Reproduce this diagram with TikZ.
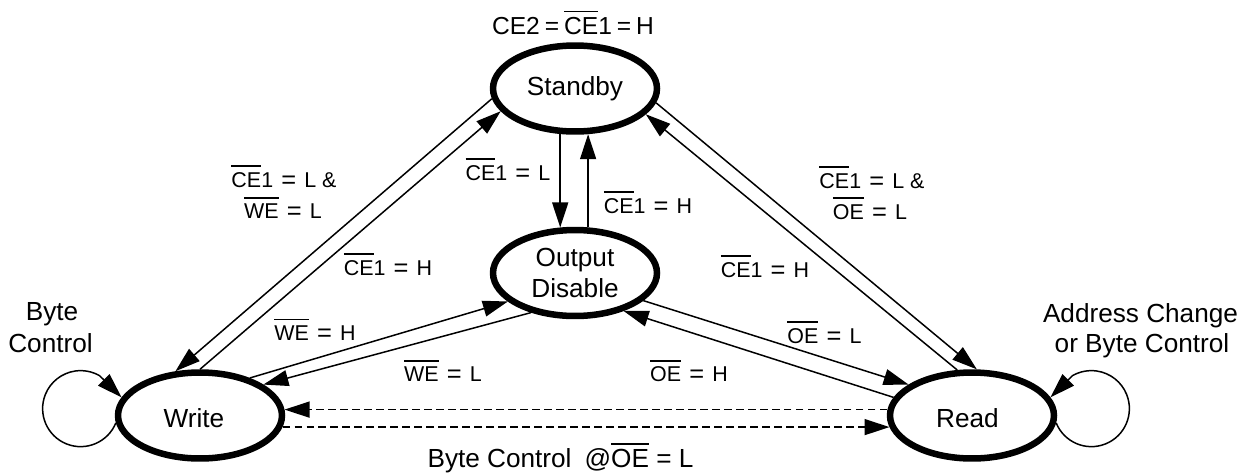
\documentclass[tikz,border=0pt]{standalone}
\usepackage{fontspec}
\setmainfont{Liberation Sans}
\usetikzlibrary{shapes.geometric,arrows.meta}
\newcommand\ovl[1]{\leavevmode\vbox{\hrule height 1.0pt\kern 2.8pt\hbox{#1}}}
\newcommand\eqt{\hspace{0.38em}\raisebox{-0.05em}{\fontsize{14.5}{14.5}\selectfont=}\hspace{0.38em}}
\newcommand\eqq{\hspace{0.2em}=\hspace{0.2em}}
\begin{document}
\begin{tikzpicture}[x=0.02cm,y=-0.02cm,
  font=\fontsize{14.9}{17.9}\selectfont,
  state/.style={ellipse, draw=black, line width=0.13cm, minimum width=3.28cm,
    minimum height=1.72cm, inner sep=0pt, fill=white, align=center},
  lbl/.style={anchor=base, inner sep=0pt},
  tlbl/.style={lbl, font=\fontsize{12.2}{14.6}\selectfont},
  conn/.style={line width=0.03cm, -{Triangle[length=0.5cm,width=0.32cm]}},
  dconn/.style={conn, dash pattern=on 0.15cm off 0.09cm}]
\useasboundingbox (0,0) rectangle (1252,474);

% states
\node[state] (sb) at (575,88.5) {Standby};
\node[state] (od) at (575,273) {Output\\Disable};
\node[state, text height=0.48cm, text depth=0pt] (wr) at (200,415.5) {Write\hspace*{0.24cm}};
\node[state, text height=0.48cm, text depth=0pt] (rd) at (972,415.5) {Read\hspace*{0.18cm}};

% connectors
\draw[conn] (sb.187) -- (wr.119);
\draw[conn] (wr.90) -- (sb.197);
\draw[conn] (sb.350) -- (rd.84);
\draw[conn] (rd.108) -- (sb.340);
\draw[conn] (sb.252) -- (od.108);
\draw[conn] (od.74) -- (sb.286);
\draw[conn] (wr.37) -- (od.203);
\draw[conn] (od.222) -- (wr.26);
\draw[conn] (od.338) -- (rd.154);
\draw[conn] (rd.167) -- (od.322);
\draw[dconn] (rd.176) -- (wr.4);
\draw[dconn] (wr.352) -- (rd.188);

% self loops
\draw[conn] (wr.185) arc[start angle=22, end angle=300, radius=38] -- (wr.167);
\draw[conn] (rd.355) arc[start angle=158, end angle=-120, radius=38] -- (rd.13);

% labels
\node[lbl, font=\fontsize{14}{16.8}\selectfont] (t0) at (573,34.5) {CE2\eqq\ovl{CE}1\eqq H};
\node[tlbl] (t1) at (508,180) {\ovl{CE}1\eqt L};
\node[tlbl] (t2) at (648,213) {\ovl{CE}1\eqt H};
\node[tlbl] (t3a) at (284,187) {\ovl{CE}1\eqt L \&};
\node[tlbl] (t3b) at (283,218.5) {\ovl{WE}\eqt L};
\node[tlbl] (t4) at (388,275) {\ovl{CE}1\eqt H};
\node[tlbl] (t5a) at (872,188) {\ovl{CE}1\eqt L \&};
\node[tlbl] (t5b) at (870,219) {\ovl{OE}\eqt L};
\node[tlbl] (t6) at (765,277) {\ovl{CE}1\eqt H};
\node[tlbl] (t7) at (315,340) {\ovl{WE}\eqt H};
\node[tlbl] (t8) at (443,381.7) {\ovl{WE}\eqt L};
\node[tlbl] (t9) at (824.5,343) {\ovl{OE}\eqt L};
\node[tlbl] (t10) at (689,381.7) {\ovl{OE}\eqt H};
\node[lbl] (t11a) at (52,320) {Byte};
\node[lbl] (t11b) at (50.5,352) {Control};
\node[lbl] (t12a) at (1140.5,322) {Address Change};
\node[lbl] (t12b) at (1142,352) {or Byte Control};
\node[lbl] (t13) at (560.5,467.7) {Byte Control\hspace{0.5em}@\ovl{OE} = L};
\end{tikzpicture}
\end{document}
